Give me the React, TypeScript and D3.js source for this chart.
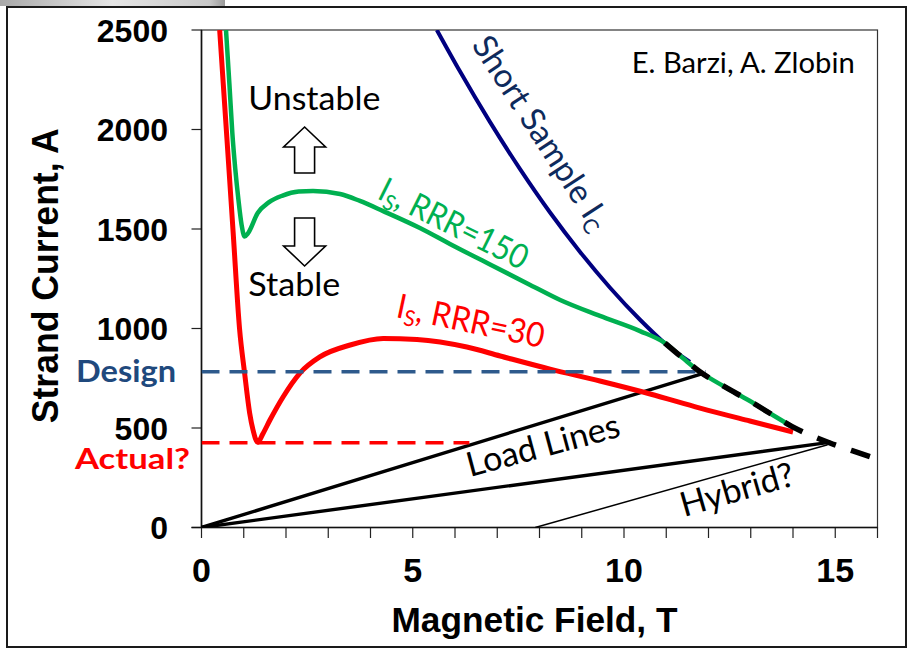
import React from "react";
import * as d3 from "d3";

// ---------- data ----------
const xTickValues = [0, 5, 10, 15];
const xTickLabels = ["0", "5", "10", "15"];
const xMinorTicks = [0, 1, 2, 3, 4, 5, 6, 7, 8, 9, 10, 11, 12, 13, 14, 15, 16];
const yTickValues = [0, 500, 1000, 1500, 2000, 2500];
const yTickLabels = ["0", "500", "1000", "1500", "2000", "2500"];

// Short sample Ic (navy)
const icField = [5.57, 6.12, 6.83, 7.54, 8.25, 8.96, 9.67, 10.38, 10.97, 11.56];
const icCurrent = [2500, 2291, 2037, 1801, 1583, 1385, 1205, 1044, 925, 832];

// Is, RRR=150 (green)
const rrr150Field = [0.58, 0.66, 0.73, 0.8, 0.875, 0.95, 1.02, 1.1, 1.33, 1.6, 1.92, 2.3, 2.64, 3.28, 3.75, 4.3, 5.17, 5.88, 6.9, 7.78, 8.49, 9.43, 10.38, 10.97, 11.4, 11.78, 12.4, 12.96, 13.5, 13.97];
const rrr150Current = [2500, 2230, 1982, 1800, 1646, 1520, 1462, 1478, 1580, 1635, 1668, 1688, 1691, 1676, 1641, 1590, 1505, 1425, 1314, 1219, 1143, 1063, 987, 927, 850, 785, 705, 638, 568, 508];

// Is, RRR=30 (red)
const rrr30Field = [0.43, 0.6, 0.75, 0.9, 1.02, 1.14, 1.22, 1.33, 1.45, 1.62, 1.93, 2.33, 2.8, 3.52, 4.3, 5.1, 6.28, 7.07, 8.25, 9.43, 10.62, 11.8, 12.98, 14.0];
const rrr30Current = [2500, 1960, 1480, 1000, 776, 575, 490, 428, 470, 540, 656, 776, 857, 917, 950, 945, 907, 862, 796, 736, 671, 600, 535, 480];

// Ic extrapolation (black dashed)
const icExtField = [10.97, 11.4, 11.78, 12.4, 12.96, 13.5, 13.97, 14.4, 14.86, 15.4, 15.92];
const icExtCurrent = [927, 850, 785, 705, 638, 568, 508, 465, 426, 386, 349];

// load lines
const loadUpperField = [0, 11.82];
const loadUpperCurrent = [0, 771];
const loadLowerField = [0, 14.86];
const loadLowerCurrent = [0, 428];
const hybridField = [7.9, 14.82];
const hybridCurrent = [0, 416];

// reference levels
const designField = [0, 11.94];
const designCurrent = [783, 783];
const actualField = [0, 6.34];
const actualCurrent = [426, 426];

// ---------- component ----------
const W = 909;
const H = 649;

export default function App() {
  const x = d3.scaleLinear().domain([0, 16]).range([201.5, 877.5]);
  const y = d3.scaleLinear().domain([0, 2500]).range([527.5, 30]);

  const zip = (xs: number[], ys: number[]) => xs.map((v, i) => [v, ys[i]] as [number, number]);
  const smooth = d3
    .line<[number, number]>()
    .x((d) => x(d[0]))
    .y((d) => y(d[1]))
    .curve(d3.curveMonotoneX);
  const straight = d3
    .line<[number, number]>()
    .x((d) => x(d[0]))
    .y((d) => y(d[1]));

  const axisFont = "'Liberation Sans', Arial, sans-serif";
  const noteFont = "Lato, 'Open Sans', sans-serif";

  const left = x(0);
  const right = x(16);
  const top = y(2500);
  const bottom = y(0);

  // arrows (annotation shapes)
  const ax = x(2.44);
  const upArrow = [
    [ax, 127],
    [ax + 21, 147],
    [ax + 10, 147],
    [ax + 10, 173],
    [ax - 10, 173],
    [ax - 10, 147],
    [ax - 21, 147],
  ];
  const downArrow = [
    [ax - 10, 218],
    [ax + 10, 218],
    [ax + 10, 246],
    [ax + 21, 246],
    [ax, 266],
    [ax - 21, 246],
    [ax - 10, 246],
  ];

  return (
    <svg
      width={W}
      height={H}
      viewBox={`0 0 ${W} ${H}`}
      style={{ position: "absolute", left: 0, top: 0, background: "#fff" }}
    >
      <defs>
        <linearGradient id="topStrip" x1="0" x2="1" y1="0" y2="0">
          <stop offset="0" stopColor="#a8a8a8" />
          <stop offset="0.5" stopColor="#e6e6e6" />
          <stop offset="0.93" stopColor="#c8c8c8" />
          <stop offset="1" stopColor="#9a9a9a" />
        </linearGradient>
        <clipPath id="plotClip">
          <rect x={left} y={top} width={right - left} height={bottom - top} />
        </clipPath>
      </defs>
      <rect x={0} y={0} width={W} height={H} fill="#fff" />
      <rect x={0} y={0} width={225} height={6} fill="url(#topStrip)" />
      {/* outer frame */}
      <rect x={7} y={7} width={899} height={640} fill="none" stroke="#1a1a1a" strokeWidth={2} />

      {/* plot border */}
      <rect x={left} y={top} width={right - left} height={bottom - top} fill="none" stroke="#333" strokeWidth={1.2} />

      {/* y ticks */}
      {yTickValues.map((v) => (
        <line key={"yt" + v} x1={left - 10} x2={left} y1={y(v)} y2={y(v)} stroke="#222" strokeWidth={1.2} />
      ))}
      {/* x ticks */}
      {xMinorTicks.map((v) => (
        <line key={"xt" + v} x1={x(v)} x2={x(v)} y1={bottom} y2={bottom + 10.5} stroke="#222" strokeWidth={1.2} />
      ))}
      {/* axes */}
      <line x1={left} x2={left} y1={top} y2={bottom} stroke="#111" strokeWidth={1.6} />
      <line x1={left - 10} x2={right} y1={bottom} y2={bottom} stroke="#111" strokeWidth={1.6} />

      {/* tick labels */}
      {yTickValues.map((v, i) => (
        <text
          key={"yl" + v}
          x={168}
          y={y(v) + 11.5}
          textAnchor="end"
          fontFamily={axisFont}
          fontWeight="bold"
          fontSize={32}
          fill="#000"
        >
          {yTickLabels[i]}
        </text>
      ))}
      {xTickValues.map((v, i) => (
        <text
          key={"xl" + v}
          x={x(v)}
          y={582}
          textAnchor="middle"
          fontFamily={axisFont}
          fontWeight="bold"
          fontSize={34}
          fill="#000"
        >
          {xTickLabels[i]}
        </text>
      ))}

      {/* axis titles */}
      <text
        x={534.5}
        y={632}
        textAnchor="middle"
        fontFamily={axisFont}
        fontWeight="bold"
        fontSize={35}
        textLength={286}
        lengthAdjust="spacingAndGlyphs"
      >
        Magnetic Field, T
      </text>
      <text
        transform="translate(58,275.7) rotate(-90)"
        textAnchor="middle"
        fontFamily={axisFont}
        fontWeight="bold"
        fontSize={37}
        textLength={295}
        lengthAdjust="spacingAndGlyphs"
      >
        Strand Current, A
      </text>

      {/* Design / Actual labels */}
      <text x={76} y={381.7} fontFamily={noteFont} fontWeight="bold" fontSize={31} fill="#1F497D" textLength={100} lengthAdjust="spacingAndGlyphs">
        Design
      </text>
      <text x={75} y={469} fontFamily={noteFont} fontWeight="bold" fontSize={29} fill="#FF0000" textLength={115} lengthAdjust="spacingAndGlyphs">
        Actual?
      </text>

      <g clipPath="url(#plotClip)">
        {/* load lines */}
        <path d={straight(zip(loadUpperField, loadUpperCurrent)) || ""} fill="none" stroke="#000" strokeWidth={3.4} strokeLinecap="round" />
        <path d={straight(zip(loadLowerField, loadLowerCurrent)) || ""} fill="none" stroke="#000" strokeWidth={3.4} strokeLinecap="round" />
        <path d={straight(zip(hybridField, hybridCurrent)) || ""} fill="none" stroke="#000" strokeWidth={1.5} />

        {/* short sample Ic */}
        <path d={smooth(zip(icField, icCurrent)) || ""} fill="none" stroke="#000080" strokeWidth={4} />
        {/* RRR=30 */}
        <path d={smooth(zip(rrr30Field, rrr30Current)) || ""} fill="none" stroke="#FF0000" strokeWidth={5} strokeLinejoin="round" />
        {/* RRR=150 */}
        <path d={smooth(zip(rrr150Field, rrr150Current)) || ""} fill="none" stroke="#00B050" strokeWidth={4.5} strokeLinejoin="round" />

        {/* reference dashed levels */}
        <path d={straight(zip(actualField, actualCurrent)) || ""} fill="none" stroke="#FF0000" strokeWidth={3.6} strokeDasharray="18 10" />
        <path d={straight(zip(designField, designCurrent)) || ""} fill="none" stroke="#2E5A8C" strokeWidth={3.6} strokeDasharray="18 10" />

        {/* Ic extrapolation */}
        <path d={smooth(zip(icExtField, icExtCurrent)) || ""} fill="none" stroke="#000" strokeWidth={5.5} strokeDasharray="20 16" />
      </g>

      {/* arrows */}
      <polygon points={upArrow.map((p) => p.join(",")).join(" ")} fill="#fff" stroke="#000" strokeWidth={1.6} strokeLinejoin="miter" />
      <polygon points={downArrow.map((p) => p.join(",")).join(" ")} fill="#fff" stroke="#000" strokeWidth={1.6} strokeLinejoin="miter" />

      {/* annotations */}
      <text x={248.3} y={110} fontFamily={noteFont} fontSize={33} fill="#000" textLength={132} lengthAdjust="spacingAndGlyphs">
        Unstable
      </text>
      <text x={248.3} y={296} fontFamily={noteFont} fontSize={33} fill="#000" textLength={92} lengthAdjust="spacingAndGlyphs">
        Stable
      </text>
      <text x={631.7} y={72.7} fontFamily={noteFont} fontSize={28} fill="#000" textLength={223} lengthAdjust="spacingAndGlyphs">
        E. Barzi, A. Zlobin
      </text>

      <text transform="translate(376,198) rotate(26.5)" fontFamily={noteFont} fontSize={34} fill="#00B050" textLength={162} lengthAdjust="spacingAndGlyphs">
        I<tspan fontSize={22} dy={6}>S</tspan>
        <tspan dy={-6}>, RRR=150</tspan>
      </text>
      <text transform="translate(395,317) rotate(12)" fontFamily={noteFont} fontSize={34} fill="#FF0000" textLength={150} lengthAdjust="spacingAndGlyphs">
        I<tspan fontSize={22} dy={6}>S</tspan>
        <tspan dy={-6}>, RRR=30</tspan>
      </text>
      <text transform="translate(471,45) rotate(57)" fontFamily={noteFont} fontSize={33} fill="#0E2A5C">
        Short Sample I<tspan fontSize={21} dy={6}>C</tspan>
      </text>
      <text transform="translate(470,477) rotate(-15)" fontFamily={noteFont} fontSize={34} fill="#000">
        Load Lines
      </text>
      <text transform="translate(684,517) rotate(-16)" fontFamily={noteFont} fontSize={34} fill="#000">
        Hybrid?
      </text>
    </svg>
  );
}
